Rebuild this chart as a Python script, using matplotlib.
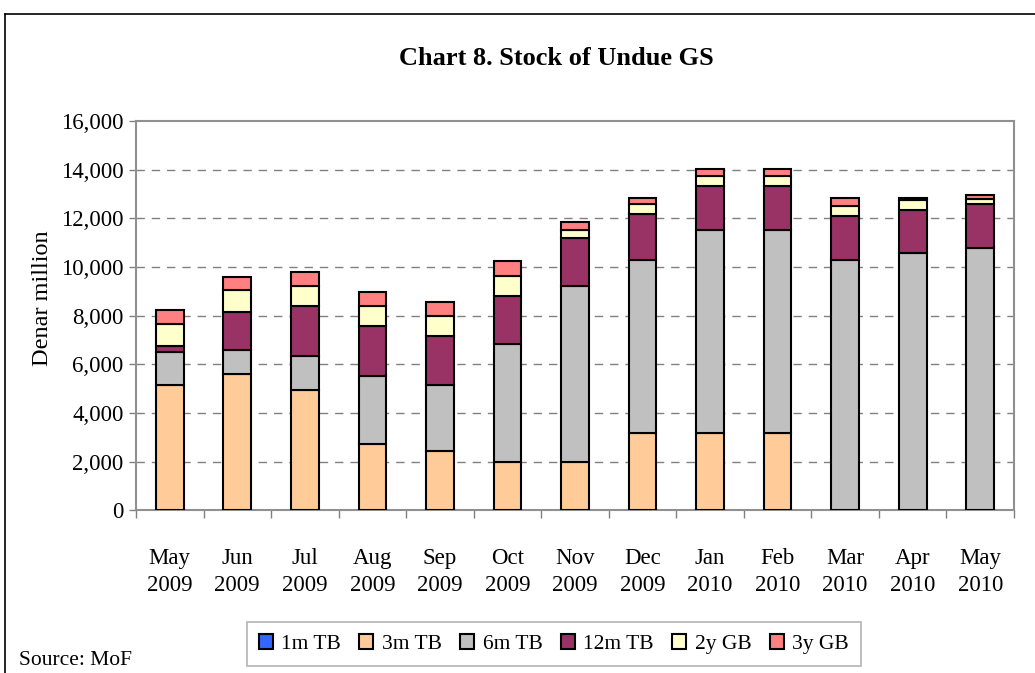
import numpy as np
import matplotlib
matplotlib.use("Agg")
import matplotlib.pyplot as plt
from matplotlib.patches import Rectangle
from matplotlib.lines import Line2D

plt.rcParams['font.family'] = ['Liberation Serif', 'DejaVu Serif']

months = ["May\n2009", "Jun\n2009", "Jul\n2009", "Aug\n2009", "Sep\n2009", "Oct\n2009",
          "Nov\n2009", "Dec\n2009", "Jan\n2010", "Feb\n2010", "Mar\n2010", "Apr\n2010", "May\n2010"]

# stock by instrument, denar million
tb_1m = [0, 0, 0, 0, 0, 0, 0, 0, 0, 0, 0, 0, 0]
tb_3m = [5160, 5600, 4960, 2720, 2460, 1980, 1980, 3200, 3200, 3200, 0, 0, 0]
tb_6m = [1330, 1000, 1390, 2790, 2700, 4860, 7260, 7110, 8330, 8330, 10310, 10560, 10790]
tb_12m = [250, 1560, 2050, 2070, 1990, 1960, 1950, 1850, 1800, 1800, 1780, 1790, 1810]
gb_2y = [920, 890, 840, 810, 830, 840, 320, 420, 420, 410, 410, 400, 210]
gb_3y = [590, 530, 560, 590, 600, 600, 350, 270, 260, 270, 350, 100, 130]

series = [("1m TB", tb_1m, "#3366FF"),
          ("3m TB", tb_3m, "#FFCC99"),
          ("6m TB", tb_6m, "#C0C0C0"),
          ("12m TB", tb_12m, "#993366"),
          ("2y GB", gb_2y, "#FFFFCC"),
          ("3y GB", gb_3y, "#FF8080")]

fig = plt.figure(figsize=(10.35, 6.73), dpi=100)
ax = fig.add_axes([0.1314, 0.2415, 0.8483, 0.5787])

x = np.arange(len(months))
bottom = np.zeros(len(months))
handles = []
for name, vals, col in series:
    vals = np.array(vals, dtype=float)
    ax.bar(x, vals, 0.41, bottom=bottom, color=col, edgecolor="black", linewidth=1.5, zorder=3)
    bottom += vals
    handles.append(Rectangle((0, 0), 1, 1, facecolor=col, edgecolor="black", linewidth=1.5, label=name))

ax.set_xlim(-0.5, len(months) - 0.5)
ax.set_ylim(0, 16000)
ax.set_yticks(np.arange(0, 16001, 2000))
ax.set_yticklabels([f"{v:,}" for v in range(0, 16001, 2000)], fontsize=16.5)
for v in range(2000, 16000, 2000):
    ax.axhline(v, color="#808080", linestyle=(0, (6, 5)), linewidth=1, zorder=1)

ax.set_xticks(x)
ax.set_xticklabels(months, fontsize=16.5, linespacing=1.4)
ax.set_xticks(np.arange(-0.5, len(months)), minor=True)
ax.tick_params(axis="x", which="major", length=0, pad=27)
ax.tick_params(axis="x", which="minor", length=6, color="#808080", width=1)
ax.tick_params(axis="y", length=5, color="#808080", width=1, pad=4)

for s in ax.spines.values():
    s.set_color("#909090")
    s.set_linewidth(1.5)

ax.set_ylabel("Denar million", fontsize=17.5)
ax.yaxis.set_label_coords(-0.094, 0.546)

fig.text(0.538, 0.913, "Chart 8. Stock of Undue GS", ha="center", va="center",
         fontsize=19, fontweight="bold")

leg = fig.legend(handles=handles, loc="center", bbox_to_anchor=(0.535, 0.043), ncol=6,
                 fontsize=15.5, frameon=True, fancybox=False, handlelength=0.65, handleheight=0.65,
                 handletextpad=0.4, columnspacing=0.85, borderpad=0.55)
leg.get_frame().set_edgecolor("#A0A0A0")
leg.get_frame().set_linewidth(1.2)

fig.text(0.018, 0.018, "Source: MoF", fontsize=15.5, ha="left", va="center")

# outer chart frame
fig.add_artist(Line2D([0.005, 1.0], [1 - 14 / 673, 1 - 14 / 673], color="black", linewidth=1.2,
                      transform=fig.transFigure))
fig.add_artist(Line2D([0.005, 0.005], [0.0, 1 - 14 / 673], color="black", linewidth=1.2,
                      transform=fig.transFigure))

fig.savefig("out.png", dpi=100)
